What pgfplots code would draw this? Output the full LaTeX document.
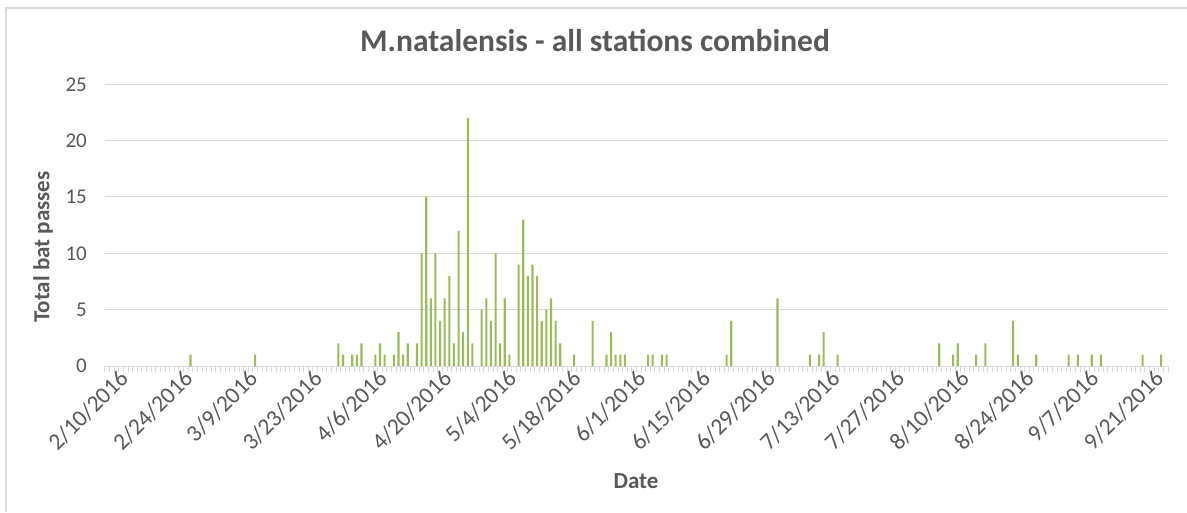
\documentclass[border=0pt]{standalone}
\usepackage{pgfplots}
\pgfplotsset{compat=1.18}
\usepackage{fontspec}
\setmainfont{Carlito}
\definecolor{txt}{HTML}{595959}
\definecolor{gridc}{HTML}{D9D9D9}
\definecolor{barc}{HTML}{9BBB59}
\begin{document}
\begin{tikzpicture}[x=1pt,y=1pt]
\useasboundingbox (0,0) rectangle (1187,512);
\draw[gridc, line width=2pt] (6,0) -- (6,504) -- (1187,504);
\begin{axis}[
  at={(105pt,146pt)}, anchor=south west,
  scale only axis, width=1063pt, height=281.7pt,
  xmin=-0.5, xmax=229.5, ymin=0, ymax=25,
  axis x line*=bottom, axis y line*=left,
  y axis line style={draw=none},
  x axis line style={gridc, line width=1pt, -},
  ytick={0,5,...,25},
  ymajorgrids, grid style={gridc, line width=1pt},
  xtick={0,14,...,224},
  xticklabels={{2/10/2016},{2/24/2016},{3/9/2016},{3/23/2016},{4/6/2016},{4/20/2016},{5/4/2016},{5/18/2016},{6/1/2016},{6/15/2016},{6/29/2016},{7/13/2016},{7/27/2016},{8/10/2016},{8/24/2016},{9/7/2016},{9/21/2016}},
  minor xtick={-0.5,0.5,...,229.5},
  tick align=outside,
  major tick length=0pt, minor tick length=6pt,
  minor tick style={gridc, line width=1pt},
  /pgf/number format/assume math mode=true,
  yticklabel style={font=\fontsize{21}{24}\selectfont, text=txt, anchor=east, inner sep=0pt, xshift=-18pt},
  xticklabel style={font=\fontsize{23.5}{28}\selectfont, text=txt, rotate=45, anchor=north east, inner sep=0pt, xshift=6pt, yshift=-9pt},
  clip=false,
]
\addplot[ybar, bar width=0.45, fill=barc, draw=none] coordinates {
(18,1)(32,1)(50,2)(51,1)(53,1)(54,1)(55,2)(58,1)(59,2)(60,1)(62,1)(63,3)(64,1)(65,2)
(67,2)(68,10)(69,15)(70,6)(71,10)(72,4)(73,6)(74,8)(75,2)(76,12)(77,3)(78,22)(79,2)
(81,5)(82,6)(83,4)(84,10)(85,2)(86,6)(87,1)(89,9)(90,13)(91,8)(92,9)(93,8)(94,4)
(95,5)(96,6)(97,4)(98,2)(101,1)(105,4)(108,1)(109,3)(110,1)(111,1)(112,1)(117,1)
(118,1)(120,1)(121,1)(134,1)(135,4)(145,6)(152,1)(154,1)(155,3)(158,1)(180,2)(183,1)
(184,2)(188,1)(190,2)(196,4)(197,1)(201,1)(208,1)(210,1)(213,1)(215,1)(224,1)(228,1)
};
\end{axis}
\node[anchor=base, text=txt, font=\fontsize{31.5}{36}\selectfont\bfseries] at (595,460) {M.natalensis - all stations combined};
\node[rotate=90, text=txt, font=\fontsize{23}{27}\selectfont\bfseries] at (43,265) {Total bat passes};
\node[text=txt, font=\fontsize{23}{27}\selectfont\bfseries] at (636,31) {Date};
\end{tikzpicture}
\end{document}
